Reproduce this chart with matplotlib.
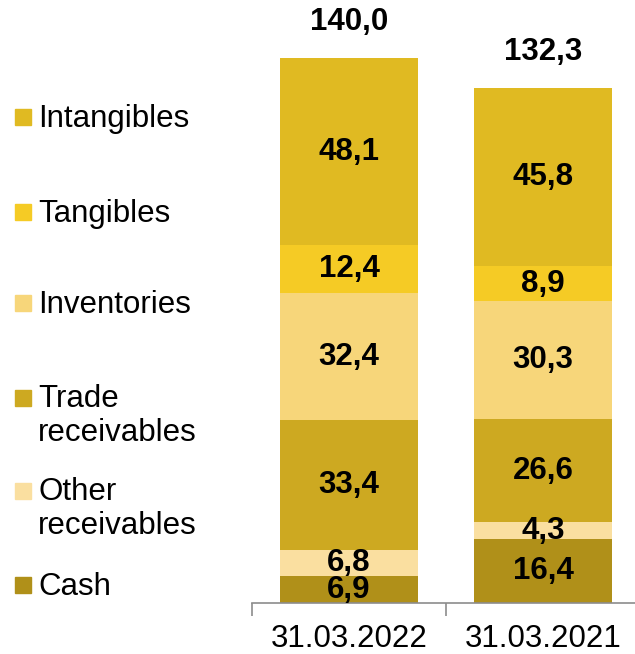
import matplotlib
matplotlib.use("Agg")
import matplotlib.pyplot as plt
from matplotlib.patches import Rectangle
import numpy as np

plt.rcParams['font.family'] = ['Liberation Sans', 'DejaVu Sans']

# data (bottom to top)
dates = ["31.03.2022", "31.03.2021"]
components = ["Cash", "Other\nreceivables", "Trade\nreceivables", "Inventories", "Tangibles", "Intangibles"]
values = {
    "Cash": [6.9, 16.4],
    "Other\nreceivables": [6.8, 4.3],
    "Trade\nreceivables": [33.4, 26.6],
    "Inventories": [32.4, 30.3],
    "Tangibles": [12.4, 8.9],
    "Intangibles": [48.1, 45.8],
}
totals = [140.0, 132.3]
colors = {
    "Cash": "#B09019",
    "Other\nreceivables": "#FADFA0",
    "Trade\nreceivables": "#CDA921",
    "Inventories": "#F7D67A",
    "Tangibles": "#F5CB25",
    "Intangibles": "#E0BA22",
}

FS = 22.5

fig = plt.figure(figsize=(6.35, 6.54), dpi=100)
ax = fig.add_axes([252 / 635, 1 - 603 / 654, 388 / 635, 584 / 654])

x = np.arange(len(dates))
bottom = np.zeros(len(dates))
for comp in components:
    v = np.array(values[comp])
    ax.bar(x, v, bottom=bottom, width=0.71, color=colors[comp], edgecolor="none")
    for xi, b, vi in zip(x, bottom, v):
        ax.text(xi, b + vi / 2, f"{vi:.1f}".replace(".", ","), ha="center", va="center",
                fontsize=FS, fontweight="bold", color="black")
    bottom += v

for xi, t in zip(x, totals):
    ax.text(xi, t + 9.3, f"{t:.1f}".replace(".", ","), ha="center", va="center",
            fontsize=FS, fontweight="bold", color="black")

ax.set_xlim(-0.5, 1.5)
ax.set_ylim(0, 150)
for s in ["top", "right", "left"]:
    ax.spines[s].set_visible(False)
ax.spines["bottom"].set_color("#8C8C8C")
ax.spines["bottom"].set_linewidth(1.2)
ax.set_yticks([])
ax.set_xticks(x)
ax.set_xticklabels(dates, fontsize=FS)
ax.tick_params(axis="x", which="major", length=0, pad=15)
ax.set_xticks([-0.5, 0.5, 1.5], minor=True)
ax.tick_params(axis="x", which="minor", length=9, color="#8C8C8C", width=1.2)

# legend at left (square centre y in pixels)
legend_items = [
    ("Intangibles", 117),
    ("Tangibles", 212),
    ("Inventories", 303),
    ("Trade\nreceivables", 398),
    ("Other\nreceivables", 491),
    ("Cash", 585),
]
for name, ypix in legend_items:
    fig.patches.append(Rectangle((15 / 635, 1 - (ypix + 8) / 654), 16 / 635, 16 / 654,
                                 transform=fig.transFigure, color=colors[name]))
    if "\n" in name:
        fig.text(38 / 635, 1 - (ypix - 14) / 654, name, ha="left", va="top",
                 fontsize=FS, linespacing=1.18)
    else:
        fig.text(38 / 635, 1 - (ypix + 2) / 654, name, ha="left", va="center", fontsize=FS)

fig.savefig("out.png", dpi=100)
